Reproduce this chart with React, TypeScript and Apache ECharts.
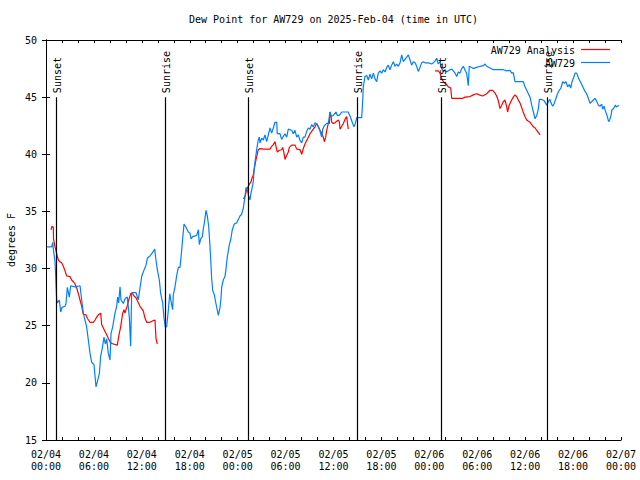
import React, { useEffect, useRef } from "react";
import * as echarts from "echarts";

// Hours since 2025-02-04 00:00 UTC, dew point (°F)
const observed: [number, number][] = [
  [0.09,31.9],[0.71,31.9],[0.84,32.3],[0.92,31.7],[1.13,30.6],[1.21,29.35],[1.34,27.25],[1.42,27.0],[1.67,27.25],[1.84,26.2],
  [2.0,26.6],[2.38,26.7],[2.5,26.9],[2.67,28.36],[2.92,27.5],[3.09,28.5],[3.63,28.4],[4.26,28.5],[4.47,27.25],[4.67,26.1],
  [5.09,24.9],[5.3,23.75],[5.51,22.6],[5.72,21.8],[6.01,21.6],[6.26,19.66],[6.43,20.1],[6.68,20.8],[6.84,22.3],[7.09,23.2],
  [7.26,24.0],[7.43,23.4],[7.6,23.85],[7.8,22.6],[8.01,22.0],[8.14,24.3],[8.35,24.9],[8.64,26.1],[8.85,26.7],[8.97,27.5],
  [9.1,27.0],[9.27,28.4],[9.39,27.25],[9.68,26.95],[9.93,27.4],[10.18,27.5],[10.43,25.8],[10.6,23.2],[10.73,27.9],[11.27,27.9],
  [11.56,27.25],[11.77,28.3],[11.98,29.3],[12.18,29.7],[12.52,30.3],[12.69,30.9],[13.02,31.1],[13.44,31.5],[13.61,31.7],[13.77,30.75],
  [13.94,29.9],[14.19,29.0],[14.36,27.8],[14.61,27.0],[14.78,25.65],[14.94,24.9],[15.11,24.9],[15.32,26.4],[15.5,27.8],[15.74,26.8],
  [15.86,26.4],[15.94,27.7],[16.15,28.4],[16.37,29.4],[16.57,30.1],[16.78,30.1],[16.99,31.6],[17.11,32.6],[17.28,33.9],[17.45,33.7],
  [17.61,33.5],[17.82,33.2],[18.03,33.1],[18.16,32.6],[18.37,32.8],[18.87,32.9],[19.08,33.4],[19.2,32.1],[19.37,32.6],[19.58,32.8],
  [19.7,33.5],[19.83,34.0],[20.04,35.1],[20.2,34.6],[20.37,33.7],[20.45,32.9],[20.62,30.9],[20.74,29.15],[20.87,28.1],[21.08,27.7],
  [21.29,26.9],[21.58,25.9],[21.79,26.6],[21.91,27.4],[22.0,28.4],[22.2,29.0],[22.41,29.3],[22.54,30.0],[22.7,31.0],[22.96,32.1],
  [23.12,32.5],[23.33,33.4],[23.58,33.9],[23.88,34.0],[24.08,34.3],[24.29,34.6],[24.5,34.75],[24.71,35.3],[24.92,36.3],[25.04,37.1],
  [25.21,36.9],[25.38,36.3],[25.54,36.0],[25.67,36.6],[25.88,37.3],[25.98,37.75],[26.05,38.6],[26.17,39.35],[26.38,40.4],[26.58,41.25],
  [26.71,41.5],[26.8,41.0],[27.01,41.4],[27.21,41.25],[27.42,41.7],[27.63,41.1],[27.84,41.7],[28.05,42.3],[28.26,41.85],[28.46,42.3],
  [28.67,42.8],[28.89,42.8],[28.96,41.8],[29.3,41.8],[29.51,41.3],[29.71,41.55],[29.93,41.8],[30.14,41.5],[30.34,42.2],[30.77,42.1],
  [30.97,41.8],[31.18,42.1],[31.39,41.5],[31.59,41.7],[31.81,41.2],[32.02,41.0],[32.22,41.5],[32.43,41.5],[32.64,42.0],[32.85,42.3],
  [33.06,42.2],[33.27,42.6],[33.47,42.4],[33.68,42.75],[33.98,42.6],[34.23,42.2],[34.52,41.5],[34.65,42.2],[34.85,42.5],[35.15,42.7],
  [35.35,42.7],[35.56,43.7],[35.69,43.3],[35.98,43.4],[36.31,43.7],[36.48,43.4],[36.73,43.4],[37.03,43.7],[37.44,43.7],[37.85,43.7],
  [38.15,43.2],[38.4,42.7],[38.57,42.4],[38.73,42.7],[38.91,43.2],[39.53,43.2],[39.66,44.75],[39.73,45.9],[39.94,46.8],[40.16,46.9],
  [40.36,46.5],[40.57,47.0],[40.78,46.6],[40.99,47.1],[41.2,46.6],[41.41,46.35],[41.61,47.1],[41.82,47.3],[42.03,47.1],[42.24,47.4],
  [42.45,47.2],[42.66,47.6],[42.86,47.8],[43.07,47.4],[43.28,47.8],[43.49,48.1],[43.7,47.7],[43.91,47.9],[44.11,47.7],[44.33,48.0],
  [44.54,48.7],[44.75,48.1],[44.95,48.3],[45.17,48.5],[45.37,48.7],[45.58,48.25],[45.79,47.8],[45.99,48.1],[46.21,48.0],[46.41,47.7],
  [46.62,47.25],[46.83,47.6],[47.04,48.0],[47.25,48.1],[47.46,48.0],[47.87,48.0],[48.29,47.9],[48.5,48.0],[48.71,48.15],[48.92,48.4],
  [49.12,47.9],[49.34,48.1],[49.55,47.5],[49.76,47.25],[49.96,47.4],[50.17,47.2],[50.38,47.3],[50.59,47.4],[50.8,47.45],[51.0,47.3],
  [51.22,47.1],[51.43,46.8],[51.63,47.2],[51.84,47.1],[52.05,47.5],[52.26,47.7],[52.47,47.35],[52.67,47.1],[52.88,46.0],[53.0,47.7],
  [53.31,47.6],[53.51,47.5],[53.93,47.6],[54.35,47.7],[54.76,47.75],[54.97,47.9],[55.18,47.7],[55.6,47.55],[56.01,47.4],[56.43,47.4],
  [56.85,47.4],[57.26,47.4],[57.68,47.3],[58.1,47.35],[58.31,47.1],[58.51,47.15],[58.73,46.35],[59.77,46.35],[59.98,45.9],[60.19,45.6],
  [60.4,45.3],[60.61,45.0],[60.82,44.3],[61.03,43.7],[61.24,43.1],[61.45,43.4],[61.66,44.0],[61.78,44.8],[62.07,44.8],[62.36,44.7],
  [62.7,44.3],[62.9,44.6],[63.11,44.8],[63.23,44.5],[63.45,44.2],[63.61,44.4],[63.86,44.9],[64.02,45.25],[64.27,45.6],[64.48,45.8],
  [64.7,46.35],[64.9,46.2],[65.11,46.35],[65.32,45.9],[65.53,46.1],[65.7,45.8],[65.87,46.35],[66.12,46.8],[66.24,47.1],[66.45,47.1],
  [66.66,46.7],[66.87,46.4],[67.08,46.1],[67.29,45.8],[67.49,45.5],[67.7,45.3],[67.91,44.9],[68.12,44.45],[68.33,44.6],[68.54,44.75],
  [68.74,44.9],[68.95,44.65],[69.16,44.3],[69.37,44.2],[69.58,44.4],[69.71,43.95],[69.87,44.2],[70.04,43.8],[70.25,43.4],[70.45,42.85],
  [70.58,43.0],[70.75,43.4],[70.87,43.9],[71.08,44.0],[71.29,44.3],[71.42,44.15],[71.58,44.2],[71.7,44.3],
];

const analysisNight1: [number, number][] = [
  [0.63,33.4],[0.75,33.7],[0.92,33.6],[0.94,32.6],[1.13,31.9],[1.34,31.3],[1.54,30.75],[1.75,30.6],[1.96,30.5],[2.17,30.2],
  [2.38,29.8],[2.59,29.35],[3.0,29.3],[3.21,29.0],[3.42,28.85],[3.63,28.65],[3.84,28.3],[4.05,27.8],[4.26,27.25],[4.47,26.7],
  [4.67,26.0],[5.01,25.95],[5.17,25.65],[5.51,25.3],[5.92,25.3],[6.14,25.5],[6.35,25.75],[6.55,25.95],[6.85,26.1],[6.97,25.1],
  [7.18,24.8],[7.39,24.5],[7.6,24.2],[7.8,23.9],[8.01,23.6],[8.22,23.45],[8.43,23.4],[8.93,23.3],[9.14,24.2],[9.35,24.9],
  [9.6,26.1],[9.77,26.4],[9.89,26.1],[10.02,26.4],[10.18,26.75],[10.36,27.25],[10.61,27.8],[10.86,27.8],[11.02,27.6],[11.27,27.45],
  [11.56,27.0],[11.77,26.7],[11.98,26.5],[12.18,26.3],[12.4,25.65],[12.61,25.3],[13.02,25.3],[13.44,25.45],[13.65,25.5],[13.77,23.9],
  [13.94,23.4],
];
const analysisNight2: [number, number][] = [
  [24.71,36.1],[24.92,36.3],[25.13,36.9],[25.33,37.2],[25.54,37.45],[25.67,37.6],[25.79,37.9],[25.96,38.2],[26.17,39.1],[26.38,39.8],
  [26.58,40.4],[26.8,40.5],[27.21,40.45],[27.63,40.45],[28.05,40.45],[28.26,40.7],[28.46,40.85],[28.67,41.1],[28.8,40.7],[28.96,40.2],
  [29.21,40.35],[29.51,40.4],[29.63,40.6],[29.8,40.1],[29.93,39.55],[30.14,39.9],[30.34,40.2],[30.47,40.6],[30.77,40.8],[31.18,40.8],
  [31.39,40.45],[31.81,40.4],[32.02,40.0],[32.22,40.5],[32.43,40.9],[32.64,41.2],[32.85,41.5],[33.06,41.8],[33.27,42.0],[33.47,42.2],
  [33.68,42.4],[33.89,42.7],[34.1,42.4],[34.31,42.1],[34.52,41.85],[34.72,41.5],[34.85,41.1],[35.02,41.5],[35.15,42.1],[35.35,42.7],
  [35.48,42.7],[35.56,43.7],[35.69,43.4],[35.77,42.8],[35.98,42.7],[36.19,42.75],[36.4,42.9],[36.61,43.0],[36.73,42.85],[36.82,42.2],
  [37.03,42.45],[37.23,42.7],[37.44,43.05],[37.65,43.3],[37.73,42.8],[37.85,42.2],
];
const analysisNight3: [number, number][] = [
  [48.71,47.3],[49.12,47.3],[49.34,47.1],[49.55,46.6],[49.76,46.35],[50.09,46.15],[50.38,45.9],[50.68,45.8],[50.8,44.9],[51.43,44.9],
  [52.18,44.9],[52.47,45.0],[53.1,45.05],[53.51,45.2],[53.93,45.3],[54.25,45.2],[54.68,45.1],[55.18,45.3],[55.6,45.6],[55.93,45.6],
  [56.22,45.35],[56.43,45.1],[56.63,44.7],[56.85,44.0],[57.06,44.3],[57.26,44.6],[57.47,44.75],[57.68,44.2],[57.8,43.7],[58.0,44.3],
  [58.31,44.75],[58.51,45.0],[58.73,45.2],[58.93,45.05],[59.14,44.75],[59.35,44.5],[59.56,44.1],[59.77,43.65],[59.98,43.3],[60.19,43.0],
  [60.4,42.9],[60.61,42.8],[60.82,42.6],[61.03,42.4],[61.24,42.3],[61.45,42.1],[61.66,41.9],[61.87,41.7],
];

const sunTimes = [1.25, 14.84, 25.33, 38.9, 49.42, 62.77];
const sunLabels = ["Sunset", "Sunrise", "Sunset", "Sunrise", "Sunset", "Sunrise"];

const yTicks = { min: 15, max: 50, step: 5 };
const xTicks = { min: 0, max: 72, step: 6 };

const titleText = "Dew Point for AW729 on 2025-Feb-04 (time in UTC)";
const yName = "degrees F";
const seriesNames = ["AW729 Analysis", "AW729"];
const seriesColors = ["#ff0000", "#0080ff"];

const FONT = "DejaVu Sans Mono";

export default function App() {
  const ref = useRef<HTMLDivElement>(null);
  useEffect(() => {
    if (!ref.current) return;
    const chart = echarts.init(ref.current, undefined, { renderer: "svg" });
    const gap: any = ["-", "-"];
    const analysis: any[] = [...analysisNight1, gap, ...analysisNight2, gap, ...analysisNight3];

    const fmtX = (v: number) => {
      const day = 4 + Math.floor(v / 24);
      const hh = v % 24;
      return `02/${String(day).padStart(2, "0")}\n${String(hh).padStart(2, "0")}:00`;
    };
    const axisLine = { show: true, lineStyle: { color: "#000", width: 1 } };
    const xCommon = {
      type: "value",
      min: xTicks.min,
      max: xTicks.max,
      interval: xTicks.step,
      axisLine,
      axisTick: { show: true, inside: true, length: 3, lineStyle: { color: "#000" } },
      minorTick: { show: true, splitNumber: 3, length: 3, lineStyle: { color: "#000" } },
      splitLine: { show: false },
    };
    const yCommon = {
      type: "value",
      min: yTicks.min,
      max: yTicks.max,
      interval: yTicks.step,
      axisLine,
      axisTick: { show: true, inside: true, length: 4, lineStyle: { color: "#000" } },
      splitLine: { show: false },
    };

    chart.setOption({
      animation: false,
      backgroundColor: "#fff",
      grid: { left: 46, right: 19, top: 40, bottom: 40, containLabel: false },
      xAxis: [
        {
          ...xCommon,
          position: "bottom",
          axisLabel: {
            show: true,
            formatter: fmtX,
            color: "#000",
            fontFamily: FONT,
            fontSize: 10,
            lineHeight: 12,
            margin: 8,
            showMinLabel: true,
            showMaxLabel: true,
            hideOverlap: false,
          },
        },
        { ...xCommon, position: "top", axisLabel: { show: false } },
      ],
      yAxis: [
        {
          ...yCommon,
          position: "left",
          axisLabel: { show: true, color: "#000", fontFamily: FONT, fontSize: 10, margin: 9 },
        },
        { ...yCommon, position: "right", axisLabel: { show: false } },
      ],
      series: [
        {
          name: seriesNames[0],
          type: "line",
          data: analysis,
          showSymbol: false,
          connectNulls: false,
          lineStyle: { color: seriesColors[0], width: 1.2 },
          itemStyle: { color: seriesColors[0] },
          z: 2,
        },
        {
          name: seriesNames[1],
          type: "line",
          data: observed,
          showSymbol: false,
          lineStyle: { color: seriesColors[1], width: 1.2 },
          itemStyle: { color: seriesColors[1] },
          z: 3,
        },
        {
          type: "custom",
          z: 4,
          clip: false,
          data: sunTimes.map((t) => [t, 45]),
          renderItem: (params: any, api: any) => {
            const h = api.value(0);
            const top = api.coord([h, 45]);
            const bot = api.coord([h, 15]);
            const x = Math.round(top[0]) + 0.5;
            return {
              type: "group",
              children: [
                {
                  type: "line",
                  shape: { x1: x, y1: top[1], x2: x, y2: bot[1] },
                  style: { stroke: "#000", lineWidth: 1.2 },
                },
                {
                  type: "text",
                  x: x + 1,
                  y: top[1] - 4,
                  rotation: Math.PI / 2,
                  style: {
                    text: sunLabels[params.dataIndex],
                    fill: "#000",
                    font: `10px "${FONT}"`,
                    align: "left",
                    verticalAlign: "middle",
                  },
                },
              ],
            };
          },
        },
      ],
      graphic: [
        {
          type: "text",
          x: 333.5,
          y: 19,
          style: { text: titleText, fill: "#000", font: `10px "${FONT}"`, align: "center", verticalAlign: "middle" },
        },
        {
          type: "text",
          x: 11,
          y: 240,
          rotation: Math.PI / 2,
          style: { text: yName, fill: "#000", font: `10px "${FONT}"`, align: "center", verticalAlign: "middle" },
        },
        {
          type: "text",
          x: 575,
          y: 50,
          z: 10,
          style: { text: seriesNames[0], fill: "#000", font: `10px "${FONT}"`, align: "right", verticalAlign: "middle" },
        },
        {
          type: "line",
          z: 10,
          shape: { x1: 581, y1: 49.5, x2: 610, y2: 49.5 },
          style: { stroke: seriesColors[0], lineWidth: 1.2 },
        },
        {
          type: "text",
          x: 575,
          y: 63,
          z: 10,
          style: { text: seriesNames[1], fill: "#000", font: `10px "${FONT}"`, align: "right", verticalAlign: "middle" },
        },
        {
          type: "line",
          z: 10,
          shape: { x1: 581, y1: 62.5, x2: 610, y2: 62.5 },
          style: { stroke: seriesColors[1], lineWidth: 1.2 },
        },
      ],
    });
    return () => chart.dispose();
  }, []);
  return (
    <div
      ref={ref}
      style={{ position: "fixed", left: 0, top: 0, width: 640, height: 480, background: "#fff" }}
    />
  );
}
